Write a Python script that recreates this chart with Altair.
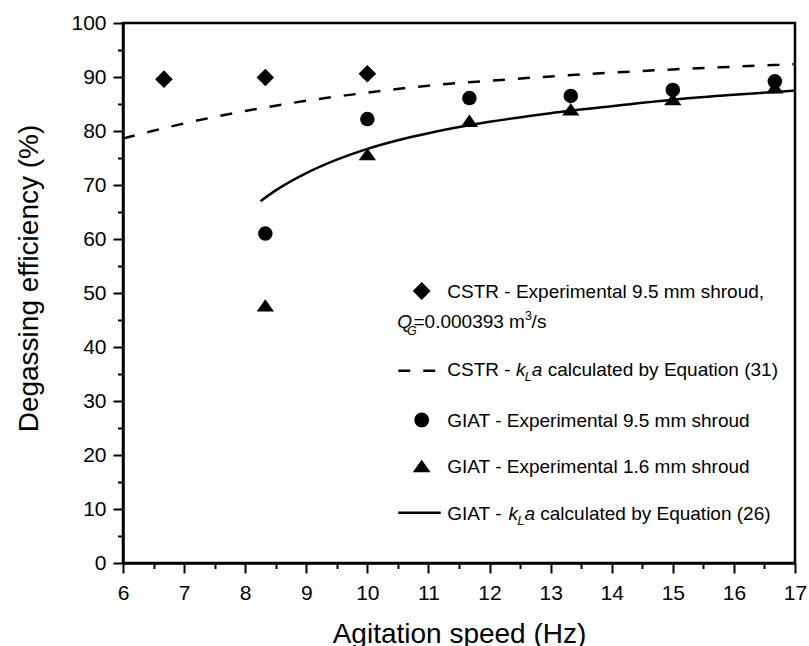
import altair as alt
import pandas as pd

FONT = "Liberation Sans"

# ---------------- data ----------------
cstr_exp_x = [6.67, 8.33, 10.0]
cstr_exp_y = [89.6, 89.9, 90.6]

giat95_x = [8.33, 10.0, 11.67, 13.33, 15.0, 16.67]
giat95_y = [61.0, 82.2, 86.1, 86.5, 87.6, 89.2]

giat16_x = [8.33, 10.0, 11.67, 13.33, 15.0, 16.67]
giat16_y = [47.7, 75.7, 81.9, 84.0, 85.9, 88.1]

cstr_model_x = [6, 7, 8, 9, 10, 11, 12, 13, 14, 15, 16, 17]
cstr_model_y = [78.6, 81.4, 83.7, 85.6, 87.1, 88.4, 89.3, 90.1, 90.8, 91.4, 91.9, 92.4]

giat_model_x = [8.25, 8.5, 9, 9.5, 10, 10.5, 11, 12, 13, 14, 15, 16, 17]
giat_model_y = [67.0, 69.0, 72.2, 74.7, 76.7, 78.3, 79.6, 81.7, 83.3, 84.6, 85.8, 86.7, 87.5]

x_tick_values = [6 + 0.5 * i for i in range(23)]
y_tick_values = [5 * i for i in range(21)]

legend_labels = [
    "CSTR - Experimental 9.5 mm shroud,",
    "GIAT - Experimental 9.5 mm shroud",
    "GIAT - Experimental 1.6 mm shroud",
]

# ---------------- axes ----------------
x_axis = alt.Axis(
    values=x_tick_values,
    title="Agitation speed (Hz)",
    titleFont=FONT, titleFontSize=28, titleFontWeight="normal", titleColor="black",
    titleX=336, titleY=79, titleBaseline="alphabetic", titleAlign="center",
    labelFont=FONT, labelFontSize=21, labelColor="black",
    labelBaseline="alphabetic", labelPadding=26, labelFlush=False, labelOverlap=False,
    labelExpr="datum.value % 1 === 0 ? '' + datum.value : ''",
    tickSize={"condition": {"test": "datum.value % 1 !== 0", "value": 5.5}, "value": 10},
    tickWidth=2, tickColor="black",
    domainColor="black", domainWidth=2.5, grid=False,
)
y_axis = alt.Axis(
    values=y_tick_values,
    title="Degassing efficiency (%)",
    titleFont=FONT, titleFontSize=28, titleFontWeight="normal", titleColor="black",
    titleX=-86, titleY=255, titleBaseline="alphabetic", titleAlign="center", titleAngle=270,
    labelFont=FONT, labelFontSize=21, labelColor="black",
    labelPadding=7, labelOverlap=False,
    labelExpr="datum.value % 10 === 0 ? '' + datum.value : ''",
    tickSize={"condition": {"test": "datum.value % 10 !== 0", "value": 5.5}, "value": 10},
    tickWidth=2, tickColor="black",
    domainColor="black", domainWidth=2.5, grid=False,
)

X = alt.X("x:Q", scale=alt.Scale(domain=[6, 17], nice=False, zero=False), axis=x_axis)
Y = alt.Y("y:Q", scale=alt.Scale(domain=[0, 100], nice=False), axis=y_axis)


def df(xs, ys):
    return pd.DataFrame({"x": xs, "y": ys})


TRI = "M0,-0.71L1,0.71L-1,0.71Z"

cstr_model = alt.Chart(df(cstr_model_x, cstr_model_y)).mark_line(
    color="black", strokeWidth=2.5, strokeDash=[12, 13], interpolate="monotone", clip=True
).encode(x=X, y=Y)

giat_model = alt.Chart(df(giat_model_x, giat_model_y)).mark_line(
    color="black", strokeWidth=2.5, interpolate="monotone", clip=True
).encode(x=X, y=Y)

cstr_pts = alt.Chart(df(cstr_exp_x, cstr_exp_y)).mark_point(
    shape="diamond", filled=True, color="black", opacity=1, size=310
).encode(x=X, y=Y)

giat95_pts = alt.Chart(df(giat95_x, giat95_y)).mark_point(
    shape="circle", filled=True, color="black", opacity=1, size=210
).encode(x=X, y=Y)

giat16_pts = alt.Chart(df(giat16_x, giat16_y)).mark_point(
    shape=TRI, filled=True, color="black", opacity=1, size=300
).encode(x=X, y=Y)

ONE = alt.Data(values=[{}])


def txt(s, x, y, size=19, style="normal"):
    return alt.Chart(ONE).mark_text(
        text=s, align="left", baseline="alphabetic", font=FONT,
        fontSize=size, fontStyle=style, color="black"
    ).encode(x=alt.value(x), y=alt.value(y))


def sym(shape, size, x, y):
    return alt.Chart(ONE).mark_point(
        shape=shape, filled=True, color="black", opacity=1, size=size
    ).encode(x=alt.value(x), y=alt.value(y))


def seg(x1, x2, y, dash=None):
    kw = dict(color="black", strokeWidth=2.5)
    if dash:
        kw["strokeDash"] = dash
    return alt.Chart(ONE).mark_rule(**kw).encode(
        x=alt.value(x1), x2=alt.value(x2), y=alt.value(y)
    )


LX = 324.3
legend = [
    # row 1
    sym("diamond", 320, 298.7, 268),
    txt(legend_labels[0], LX, 275.3),
    txt("Q", 274.3, 305.3, style="italic"),
    txt("G", 284.0, 311.5, size=12.5, style="italic"),
    txt("=0.000393 m", 290.5, 305.3),
    txt("3", 401.9, 296.5, size=12.5),
    txt("/s", 408.6, 305.3),
    # row 2
    seg(275.3, 312.5, 347.7, dash=[12, 13]),
    txt("CSTR -", LX, 352.7),
    txt("k", 392.9, 352.7, style="italic"),
    txt("L", 401.8, 357.5, size=12.5, style="italic"),
    txt("a", 408.8, 352.7, style="italic"),
    txt("calculated by Equation (31)", 424.7, 352.7),
    # row 3
    sym("circle", 220, 298.7, 397),
    txt(legend_labels[1], LX, 403.7),
    # row 4
    sym(TRI, 320, 298.7, 443),
    txt(legend_labels[2], LX, 450.3),
    # row 5
    seg(275.3, 317.7, 489.7),
    txt("GIAT -", LX, 497),
    txt("k", 385.5, 497, style="italic"),
    txt("L", 394.4, 501.8, size=12.5, style="italic"),
    txt("a", 401.4, 497, style="italic"),
    txt("calculated by Equation (26)", 417.3, 497),
]

chart = alt.layer(
    cstr_model, giat_model, cstr_pts, giat95_pts, giat16_pts, *legend
).properties(
    width=672, height=540,
    autosize=alt.AutoSizeParams(type="none"),
    padding={"left": 123, "top": 23, "right": 14, "bottom": 83},
    background="white",
).configure_view(
    stroke="black", strokeWidth=2.5
)

chart.save("out.html", embed_options={"renderer": "svg", "actions": False})
